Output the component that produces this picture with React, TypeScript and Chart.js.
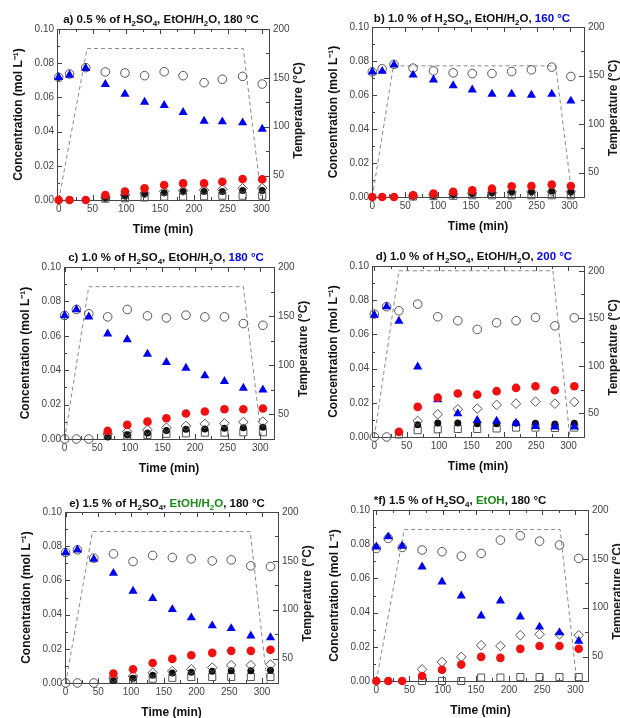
import React, { useEffect, useRef } from 'react';
import { Chart, registerables } from 'chart.js';
Chart.register(...registerables);

// ---------- DATA ----------
// Panel a) 0.5 % H2SO4, EtOH/H2O, 180 °C
const aTime = [0, 16, 40, 69, 98, 127, 156, 184, 215, 242, 272, 301];
const aCircle = [0.0717, 0.0737, 0.0774, 0.0749, 0.0743, 0.0727, 0.075, 0.0727, 0.0686, 0.0706, 0.0723, 0.0678];
const aTriangle = [0.0717, 0.073, 0.077, 0.0676, 0.062, 0.0573, 0.0554, 0.0513, 0.0462, 0.0458, 0.0452, 0.0415];
const aRed = [0, 0, 0, 0.0029, 0.005, 0.0068, 0.0088, 0.0097, 0.0097, 0.0107, 0.0123, 0.0121];
const aBlack = [0, 0, 0, 0.001, 0.0023, 0.0035, 0.0043, 0.0049, 0.0049, 0.0049, 0.0055, 0.0055];
const aDiamond = [null, null, null, 0.0015, 0.003, 0.004, 0.005, 0.0055, 0.0058, 0.0062, 0.0068, 0.007];
const aSquare = [null, null, null, 0.0008, 0.001, 0.0015, 0.002, 0.002, 0.0022, 0.0025, 0.0025, 0.0025];
const aZero = [null, null, null, null, null, null, null, null, null, null, null, null];
const aTempTime = [0, 42, 273, 300];
const aTemp = [25, 180, 180, 25];

// Panel b) 1.0 % H2SO4, EtOH/H2O, 160 °C
const bTime = [0, 15, 33, 62, 93, 123, 152, 182, 212, 242, 273, 302];
const bCircle = [0.0736, 0.0754, 0.078, 0.0758, 0.0742, 0.073, 0.0726, 0.0726, 0.0738, 0.0748, 0.0764, 0.0709];
const bTriangle = [0.0736, 0.074, 0.0778, 0.0718, 0.0689, 0.0655, 0.063, 0.0606, 0.0606, 0.06, 0.0606, 0.0565];
const bRed = [0, 0, 0, 0.001, 0.002, 0.0031, 0.0039, 0.0049, 0.0063, 0.0065, 0.0073, 0.0065];
const bBlack = [0, 0, 0, 0.0005, 0.0007, 0.0012, 0.002, 0.0025, 0.003, 0.003, 0.0035, 0.003];
const bDiamond = [null, null, null, 0.0008, 0.0012, 0.0016, 0.0022, 0.0026, 0.003, 0.0031, 0.0032, 0.0032];
const bSquare = [null, null, null, 0.0003, 0.0005, 0.0007, 0.001, 0.001, 0.001, 0.001, 0.001, 0.001];
const bZero = [null, null, null, null, null, null, null, null, null, null, null, null];
const bTempTime = [0, 32, 279, 304];
const bTemp = [25, 160, 160, 25];

// Panel c) 1.0 % H2SO4, EtOH/H2O, 180 °C
const cTime = [0, 18, 37, 66, 96, 127, 156, 186, 215, 245, 274, 304];
const cCircle = [0.0718, 0.0753, 0.0728, 0.071, 0.0753, 0.0716, 0.0704, 0.072, 0.071, 0.071, 0.0671, 0.0661];
const cTriangle = [0.0718, 0.0753, 0.071, 0.0611, 0.0578, 0.0494, 0.0446, 0.0412, 0.0368, 0.0335, 0.0296, 0.0286];
const cRed = [null, null, null, 0.0047, 0.0082, 0.0101, 0.0121, 0.0148, 0.016, 0.0173, 0.0173, 0.0177];
const cBlack = [null, null, null, 0.0012, 0.0025, 0.0035, 0.005, 0.0056, 0.0058, 0.0062, 0.0066, 0.0068];
const cDiamond = [null, null, null, 0.003, 0.0043, 0.0053, 0.0066, 0.0076, 0.0088, 0.0091, 0.0099, 0.0101];
const cSquare = [null, null, null, 0.0018, 0.002, 0.0023, 0.003, 0.0033, 0.0037, 0.0037, 0.0039, 0.0039];
const cZero = [0, 0, 0, null, null, null, null, null, null, null, null, null];
const cTempTime = [0, 37, 274, 302];
const cTemp = [25, 180, 180, 25];

// Panel d) 1.0 % H2SO4, EtOH/H2O, 200 °C
const dTime = [0, 19, 38, 67, 98, 129, 159, 189, 219, 249, 279, 309];
const dCircle = [0.0719, 0.0762, 0.0738, 0.0777, 0.0703, 0.068, 0.0629, 0.0668, 0.068, 0.0699, 0.065, 0.0697];
const dTriangle = [0.0713, 0.0762, 0.0678, 0.041, 0.0219, 0.0137, 0.0098, 0.0094, 0.0082, 0.0062, 0.006, 0.006];
const dRed = [null, null, 0.003, 0.0176, 0.023, 0.0254, 0.0248, 0.0268, 0.0287, 0.0297, 0.0273, 0.0297];
const dBlack = [null, null, null, 0.0072, 0.0082, 0.0082, 0.0078, 0.0078, 0.008, 0.008, 0.0076, 0.008];
const dDiamond = [null, null, null, 0.0094, 0.0133, 0.0162, 0.0166, 0.0188, 0.0195, 0.0207, 0.0195, 0.0205];
const dSquare = [null, null, 0.0015, 0.004, 0.0045, 0.0047, 0.0047, 0.005, 0.0055, 0.0055, 0.0053, 0.0055];
const dZero = [0, 0, null, null, null, null, null, null, null, null, null, null];
const dTempTime = [0, 38, 276, 302];
const dTemp = [25, 200, 200, 25];

// Panel e) 1.5 % H2SO4, EtOH/H2O, 180 °C
const eTime = [0, 18, 43, 73, 103, 133, 163, 192, 224, 253, 283, 313];
const eCircle = [0.0763, 0.0779, 0.073, 0.0755, 0.071, 0.0746, 0.0734, 0.0726, 0.0714, 0.072, 0.0685, 0.0681];
const eTriangle = [0.0763, 0.0779, 0.0724, 0.0642, 0.0538, 0.0495, 0.043, 0.0382, 0.0335, 0.0319, 0.0276, 0.0266];
const eRed = [null, null, null, 0.0055, 0.008, 0.0117, 0.0141, 0.0162, 0.0176, 0.0188, 0.0188, 0.0194];
const eBlack = [null, null, null, 0.0015, 0.0028, 0.0045, 0.0058, 0.0063, 0.0068, 0.0072, 0.0072, 0.0074];
const eDiamond = [null, null, null, 0.003, 0.004, 0.006, 0.007, 0.008, 0.009, 0.0104, 0.0104, 0.0108];
const eSquare = [null, null, null, 0.002, 0.002, 0.0025, 0.003, 0.0035, 0.0035, 0.0035, 0.0035, 0.0035];
const eZero = [0, 0, 0, null, null, null, null, null, null, null, null, null];
const eTempTime = [0, 41, 282, 308];
const eTemp = [25, 180, 180, 25];

// Panel f) 1.5 % H2SO4, EtOH, 180 °C
const fTime = [0, 18, 39, 69, 99, 128, 158, 187, 217, 246, 276, 305];
const fCircle = [0.0775, 0.0834, 0.0781, 0.0766, 0.0756, 0.073, 0.0746, 0.0824, 0.085, 0.0818, 0.0795, 0.0717];
const fTriangle = [0.0785, 0.0844, 0.0789, 0.0668, 0.058, 0.0498, 0.0381, 0.0469, 0.0375, 0.0316, 0.0283, 0.0234];
const fRed = [0, 0, 0, 0.0029, 0.0066, 0.0096, 0.0141, 0.0135, 0.0188, 0.0205, 0.0205, 0.0189];
const fBlack = [null, null, null, null, null, null, null, null, null, null, null, null];
const fDiamond = [null, null, null, 0.0068, 0.0111, 0.0141, 0.0209, 0.0205, 0.0268, 0.0273, 0.0273, 0.0268];
const fSquare = [null, null, null, 0, 0, 0, 0.002, 0.002, 0.0023, 0.0023, 0.0023, 0.0023];
const fZero = [null, null, null, null, null, null, null, null, null, null, null, null];
const fTempTime = [0, 42, 277, 302];
const fTemp = [25, 180, 180, 25];

const xTicks = [0, 50, 100, 150, 200, 250, 300];
const yTicks = [0, 0.02, 0.04, 0.06, 0.08, 0.1];
const tTicks = [50, 100, 150, 200];

// ---------- STYLE / LAYOUT ----------
const FONT = "'Liberation Sans', Arial, Helvetica, sans-serif";
const BLUE = '#0000EE';
const RED = '#F01010';
const GREEN = '#1A8C1A';
const OPEN = '#555555';

const LEFT_W = 57;
const RIGHT_W = 36;
const TOP_PAD = 10;
const BOTTOM_H = 37;

type Series = (number | null)[];
type PanelDef = {
  key: string;
  time: number[];
  circle: Series; triangle: Series; red: Series; black: Series; diamond: Series; square: Series; zero: Series;
  tempTime: number[]; temp: number[];
  xMin: number; xMax: number; tMax: number;
  plot: { x0: number; x1: number; y0: number; y1: number };
  title: React.ReactNode; titleX: number; titleY: number;
};

const Sub = ({ children }: { children: React.ReactNode }) => (
  <span style={{ fontSize: '8px', position: 'relative', top: '3px' }}>{children}</span>
);
const Col = ({ c, children }: { c: string; children: React.ReactNode }) => (
  <span style={{ color: c }}>{children}</span>
);

const panels: PanelDef[] = [
  {
    key: 'a', time: aTime, circle: aCircle, triangle: aTriangle, red: aRed, black: aBlack, diamond: aDiamond, square: aSquare, zero: aZero,
    tempTime: aTempTime, temp: aTemp, xMin: -2.5, xMax: 311, tMax: 200,
    plot: { x0: 57, x1: 269, y0: 29, y1: 200 },
    title: <>a) 0.5 % of H<Sub>2</Sub>SO<Sub>4</Sub>, EtOH/H<Sub>2</Sub>O, 180 °C</>, titleX: 161, titleY: 20,
  },
  {
    key: 'b', time: bTime, circle: bCircle, triangle: bTriangle, red: bRed, black: bBlack, diamond: bDiamond, square: bSquare, zero: bZero,
    tempTime: bTempTime, temp: bTemp, xMin: -0.5, xMax: 322, tMax: 200,
    plot: { x0: 372, x1: 584, y0: 27, y1: 197 },
    title: <>b) 1.0 % of H<Sub>2</Sub>SO<Sub>4</Sub>, EtOH/H<Sub>2</Sub>O, <Col c={BLUE}>160 °C</Col></>, titleX: 472, titleY: 19,
  },
  {
    key: 'c', time: cTime, circle: cCircle, triangle: cTriangle, red: cRed, black: cBlack, diamond: cDiamond, square: cSquare, zero: cZero,
    tempTime: cTempTime, temp: cTemp, xMin: -1, xMax: 321, tMax: 200,
    plot: { x0: 64, x1: 274, y0: 267, y1: 439 },
    title: <>c) 1.0 % of H<Sub>2</Sub>SO<Sub>4</Sub>, EtOH/H<Sub>2</Sub>O, <Col c={BLUE}>180 °C</Col></>, titleX: 166, titleY: 258,
  },
  {
    key: 'd', time: dTime, circle: dCircle, triangle: dTriangle, red: dRed, black: dBlack, diamond: dDiamond, square: dSquare, zero: dZero,
    tempTime: dTempTime, temp: dTemp, xMin: -3.6, xMax: 324, tMax: 205,
    plot: { x0: 372, x1: 584, y0: 266, y1: 437 },
    title: <>d) 1.0 % of H<Sub>2</Sub>SO<Sub>4</Sub>, EtOH/H<Sub>2</Sub>O, <Col c={BLUE}>200 °C</Col></>, titleX: 474, titleY: 257,
  },
  {
    key: 'e', time: eTime, circle: eCircle, triangle: eTriangle, red: eRed, black: eBlack, diamond: eDiamond, square: eSquare, zero: eZero,
    tempTime: eTempTime, temp: eTemp, xMin: -1, xMax: 324.5, tMax: 200,
    plot: { x0: 65, x1: 278, y0: 512, y1: 683 },
    title: <>e) 1.5 % of H<Sub>2</Sub>SO<Sub>4</Sub>, <Col c={GREEN}>EtOH/H<Sub>2</Sub>O</Col>, 180 °C</>, titleX: 167, titleY: 504,
  },
  {
    key: 'f', time: fTime, circle: fCircle, triangle: fTriangle, red: fRed, black: fBlack, diamond: fDiamond, square: fSquare, zero: fZero,
    tempTime: fTempTime, temp: fTemp, xMin: -5, xMax: 319, tMax: 200,
    plot: { x0: 373, x1: 588, y0: 510, y1: 681 },
    title: <>*f) 1.5 % of H<Sub>2</Sub>SO<Sub>4</Sub>, <Col c={GREEN}>EtOH</Col>, 180 °C</>, titleX: 460, titleY: 501,
  },
];

const pts = (t: number[], v: Series) =>
  t.map((x, i) => ({ x, y: v[i] })).filter((p) => p.y !== null && p.y !== undefined) as { x: number; y: number }[];

const frameTicks = {
  id: 'frameTicks',
  beforeDatasetsDraw(chart: any) {
    const ctx = chart.ctx as CanvasRenderingContext2D;
    const { left, right, top, bottom } = chart.chartArea;
    const xs = chart.scales.x, ys = chart.scales.y, y2 = chart.scales.y2;
    ctx.save();
    ctx.strokeStyle = '#444';
    ctx.lineWidth = 1;
    ctx.strokeRect(Math.round(left) + 0.5, Math.round(top) + 0.5, Math.round(right - left), Math.round(bottom - top));
    ctx.beginPath();
    for (let v = 0; v <= 300; v += 25) {
      const p = Math.round(xs.getPixelForValue(v)) + 0.5;
      const l = v % 50 === 0 ? 5 : 3;
      ctx.moveTo(p, bottom); ctx.lineTo(p, bottom - l);
      ctx.moveTo(p, top); ctx.lineTo(p, top + l);
    }
    for (let i = 0; i <= 10; i++) {
      const p = Math.round(ys.getPixelForValue(i * 0.01)) + 0.5;
      const l = i % 2 === 0 ? 5 : 3;
      ctx.moveTo(left, p); ctx.lineTo(left + l, p);
    }
    for (let v = 50; v <= 200; v += 25) {
      const p = Math.round(y2.getPixelForValue(v)) + 0.5;
      const l = v % 50 === 0 ? 5 : 3;
      ctx.moveTo(right, p); ctx.lineTo(right - l, p);
    }
    ctx.stroke();
    ctx.translate(right + 30, (top + bottom) / 2 - 4);
    ctx.rotate(-Math.PI / 2);
    ctx.font = `bold 12px ${FONT}`;
    ctx.fillStyle = '#1a1a1a';
    ctx.textAlign = 'center';
    ctx.textBaseline = 'middle';
    ctx.fillText('Temperature (°C)', 0, 0);
    ctx.restore();
  },
};

function Panel({ p }: { p: PanelDef }) {
  const ref = useRef<HTMLCanvasElement | null>(null);
  const cLeft = p.plot.x0 - LEFT_W;
  const cTop = p.plot.y0 - TOP_PAD;
  const cW = LEFT_W + (p.plot.x1 - p.plot.x0) + RIGHT_W + 4;
  const cH = TOP_PAD + (p.plot.y1 - p.plot.y0) + BOTTOM_H;

  useEffect(() => {
    if (!ref.current) return;
    const open = (style: string, r: number) => ({
      pointStyle: style, pointRadius: r, borderColor: OPEN, backgroundColor: 'rgba(0,0,0,0)', borderWidth: 1, clip: false as any,
    });
    const filled = (style: string, r: number, c: string) => ({
      pointStyle: style, pointRadius: r, borderColor: c, backgroundColor: c, borderWidth: 0, clip: false as any,
    });
    const chart = new Chart(ref.current, {
      type: 'scatter',
      data: {
        datasets: [
          { label: 'red', data: pts(p.time, p.red), ...filled('circle', 4.3, RED) },
          { label: 'triangle', data: pts(p.time, p.triangle), ...filled('triangle', 5.3, BLUE) },
          { label: 'circle', data: pts(p.time, p.circle), ...open('circle', 4.3) },
          { label: 'diamond', data: pts(p.time, p.diamond), ...open('rectRot', 4.8) },
          { label: 'black', data: pts(p.time, p.black), ...filled('circle', 3.5, '#111') },
          { label: 'square', data: pts(p.time, p.square), ...open('rect', 5) },
          { label: 'zero', data: pts(p.time, p.zero), ...open('circle', 4.3) },
          {
            label: 'Temperature', data: pts(p.tempTime, p.temp), yAxisID: 'y2', showLine: true,
            borderColor: '#8a8a8a', borderDash: [4, 3], borderWidth: 1, pointRadius: 0, clip: false as any,
          } as any,
        ],
      },
      options: {
        responsive: false,
        animation: false,
        layout: { padding: { top: TOP_PAD, left: 0, right: 4, bottom: 0 } },
        plugins: { legend: { display: false }, tooltip: { enabled: false } },
        scales: {
          x: {
            type: 'linear', min: p.xMin, max: p.xMax,
            grid: { display: false, drawTicks: false }, border: { display: false },
            afterBuildTicks: (s: any) => { s.ticks = xTicks.map((value) => ({ value })); },
            afterFit: (s: any) => { s.height = BOTTOM_H; },
            ticks: { font: { family: FONT, size: 10 }, color: '#444', padding: 3, maxRotation: 0, autoSkip: false },
            title: { display: true, text: 'Time (min)', font: { family: FONT, size: 12, weight: 'bold' }, color: '#111', padding: { top: 0, bottom: 0 } },
          },
          y: {
            position: 'left', min: 0, max: 0.1,
            grid: { display: false, drawTicks: false }, border: { display: false },
            afterBuildTicks: (s: any) => { s.ticks = yTicks.map((value) => ({ value })); },
            afterFit: (s: any) => { s.width = LEFT_W; },
            ticks: { font: { family: FONT, size: 10 }, color: '#444', padding: 3, callback: (v: any) => Number(v).toFixed(2) },
            title: { display: true, text: 'Concentration (mol L⁻¹)', font: { family: FONT, size: 12, weight: 'bold' }, color: '#111', padding: { top: 11, bottom: 0 } },
          },
          y2: {
            position: 'right', min: 25, max: p.tMax,
            grid: { display: false, drawTicks: false }, border: { display: false },
            afterBuildTicks: (s: any) => { s.ticks = tTicks.map((value) => ({ value })); },
            afterFit: (s: any) => { s.width = RIGHT_W; },
            ticks: { font: { family: FONT, size: 10 }, color: '#444', padding: 4 },
          },
        },
      } as any,
      plugins: [frameTicks],
    });
    return () => chart.destroy();
  }, []);

  return (
    <>
      <canvas
        ref={ref}
        width={cW}
        height={cH}
        style={{ position: 'absolute', left: cLeft, top: cTop, width: cW, height: cH }}
      />
      <div
        style={{
          position: 'absolute', left: p.titleX, top: p.titleY, transform: 'translate(-50%, -50%)',
          whiteSpace: 'nowrap', fontFamily: FONT, fontWeight: 'bold', fontSize: '11.5px', color: '#111', lineHeight: '14px',
        }}
      >
        {p.title}
      </div>
    </>
  );
}

export default function App() {
  return (
    <div style={{ position: 'absolute', left: 0, top: 0, width: 620, height: 718, overflow: 'hidden', background: '#fff' }}>
      {panels.map((p) => (
        <Panel key={p.key} p={p} />
      ))}
    </div>
  );
}
